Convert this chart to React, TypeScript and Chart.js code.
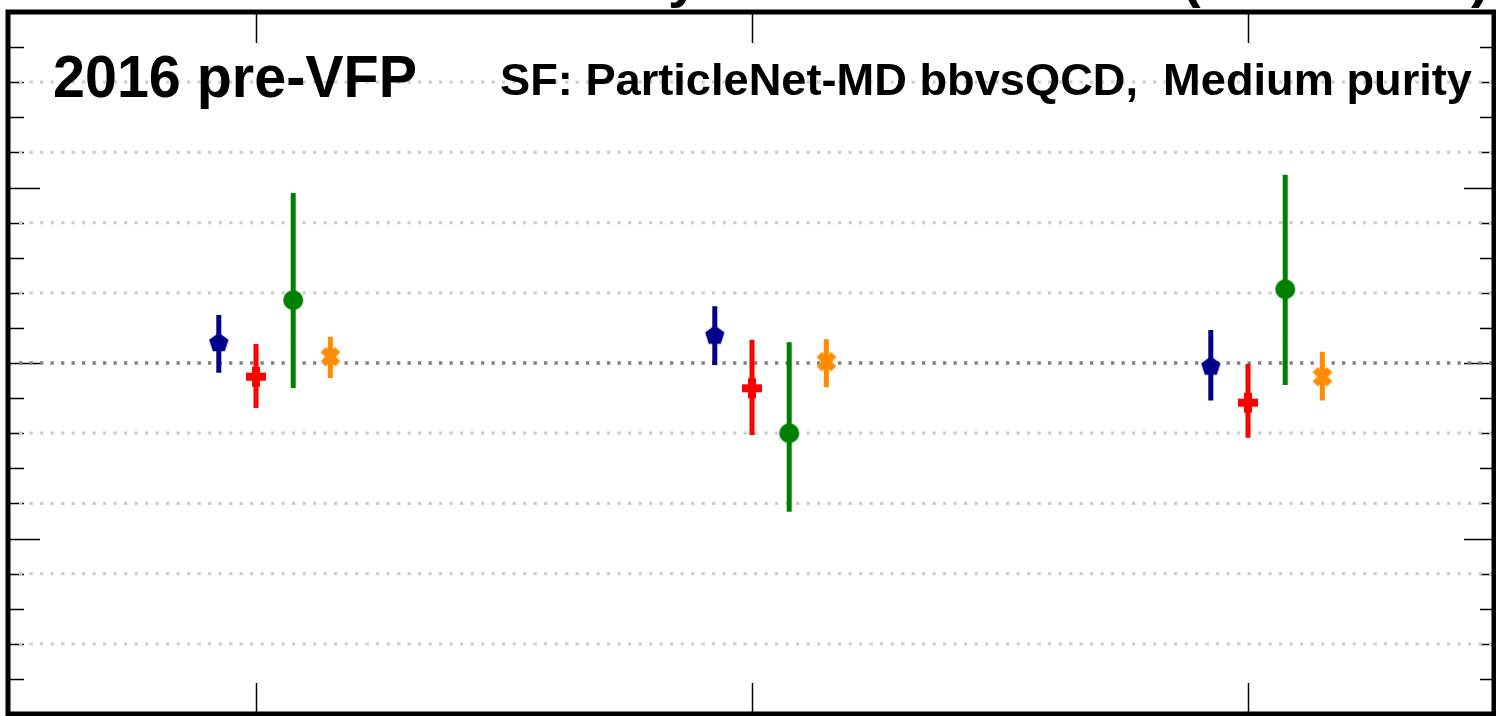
import React, { useEffect, useRef } from "react";
import { Chart, registerables } from "chart.js";

Chart.register(...registerables);

// ---- data ----
const categories = ["bin 1", "bin 2", "bin 3"];
const categoryPositions = [0, 1, 2];

const seriesNames = ["Method A", "Method B", "Method C", "Method D"];

const seriesAValues = [1.057, 1.078, 0.99];
const seriesAHigh = [1.137, 1.162, 1.094];
const seriesALow = [0.972, 0.994, 0.893];

const seriesBValues = [0.961, 0.928, 0.887];
const seriesBHigh = [1.054, 1.066, 0.997];
const seriesBLow = [0.872, 0.795, 0.787];

const seriesCValues = [1.179, 0.8, 1.21];
const seriesCHigh = [1.484, 1.059, 1.536];
const seriesCLow = [0.929, 0.576, 0.937];

const seriesDValues = [1.018, 1.004, 0.961];
const seriesDHigh = [1.075, 1.068, 1.032];
const seriesDLow = [0.957, 0.931, 0.893];

const yMinorTicks = [0.1, 0.2, 0.3, 0.4, 0.6, 0.7, 0.8, 0.9, 1.1, 1.2, 1.3, 1.4, 1.6, 1.7, 1.8, 1.9];
const yMajorTicks = [0.5, 1.0, 1.5];
const yGridValues = [0.2, 0.4, 0.6, 0.8, 1.2, 1.4, 1.6, 1.8];
const yReferenceLine = 1.0;

const eraLabel = "2016 pre-VFP";
const sfLabel = "SF: ParticleNet-MD bbvsQCD,  Medium purity";

// ---- styles ----
const seriesOffsets = [-0.075, 0, 0.075, 0.15];
const seriesColors = ["#00008b", "#ff0000", "#008000", "#ff8c00"];
const seriesShapes = ["pentagon", "plus", "circle", "x"];

function makeMarker(shape: string, color: string): HTMLCanvasElement {
  const c = document.createElement("canvas");
  c.width = 28;
  c.height = 28;
  const g = c.getContext("2d")!;
  g.translate(14, 14);
  g.fillStyle = color;
  g.strokeStyle = color;
  if (shape === "pentagon") {
    const r = 10.2;
    g.beginPath();
    for (let k = 0; k < 5; k++) {
      const a = -Math.PI / 2 + (k * 2 * Math.PI) / 5;
      const px = r * Math.cos(a);
      const py = r * Math.sin(a);
      if (k === 0) g.moveTo(px, py);
      else g.lineTo(px, py);
    }
    g.closePath();
    g.fill();
  } else if (shape === "plus") {
    const s = 10;
    const t = 4;
    g.fillRect(-s, -t, 2 * s, 2 * t);
    g.fillRect(-t, -s, 2 * t, 2 * s);
  } else if (shape === "circle") {
    g.beginPath();
    g.arc(0, 0, 10, 0, Math.PI * 2);
    g.fill();
  } else if (shape === "x") {
    const s = 7.2;
    g.lineWidth = 7.5;
    g.lineCap = "butt";
    g.beginPath();
    g.moveTo(-s, -s);
    g.lineTo(s, s);
    g.moveTo(-s, s);
    g.lineTo(s, -s);
    g.stroke();
  }
  return c;
}

const FONT = '"Liberation Sans", Arial, Helvetica, sans-serif';

function fitText(ctx: CanvasRenderingContext2D, text: string, x: number, y: number, size: number, width: number) {
  ctx.save();
  ctx.font = `bold ${size}px ${FONT}`;
  ctx.textBaseline = "alphabetic";
  ctx.textAlign = "left";
  const w = ctx.measureText(text).width;
  ctx.translate(x, y);
  ctx.scale(width / w, 1);
  ctx.fillStyle = "#000";
  ctx.fillText(text, 0, 0);
  ctx.restore();
}

export default function App() {
  const ref = useRef<HTMLCanvasElement | null>(null);

  useEffect(() => {
    if (!ref.current) return;
    const values = [seriesAValues, seriesBValues, seriesCValues, seriesDValues];
    const highs = [seriesAHigh, seriesBHigh, seriesCHigh, seriesDHigh];
    const lows = [seriesALow, seriesBLow, seriesCLow, seriesDLow];

    const datasets = seriesNames.map((name, s) => ({
      label: name,
      data: categoryPositions.map((c, i) => ({
        x: c + seriesOffsets[s],
        y: values[s][i],
        lo: lows[s][i],
        hi: highs[s][i],
      })),
      pointStyle: makeMarker(seriesShapes[s], seriesColors[s]) as any,
      backgroundColor: seriesColors[s],
      borderColor: seriesColors[s],
      showLine: false,
    }));

    const decorations = {
      id: "decorations",
      beforeDatasetsDraw(chart: any) {
        const ctx: CanvasRenderingContext2D = chart.ctx;
        const { left, right, top, bottom } = chart.chartArea;
        const xs = chart.scales.x;
        const ys = chart.scales.y;
        ctx.save();
        // ticks
        ctx.strokeStyle = "#000";
        ctx.lineWidth = 1.5;
        ctx.beginPath();
        yMinorTicks.forEach((v) => {
          const py = Math.round(ys.getPixelForValue(v)) + 0.5;
          ctx.moveTo(left, py);
          ctx.lineTo(left + 16, py);
          ctx.moveTo(right - 2, py);
          ctx.lineTo(right - 16, py);
        });
        yMajorTicks.forEach((v) => {
          const py = Math.round(ys.getPixelForValue(v)) + 0.5;
          ctx.moveTo(left, py);
          ctx.lineTo(left + 32, py);
          ctx.moveTo(right - 2, py);
          ctx.lineTo(right - 32, py);
        });
        categoryPositions.forEach((c) => {
          const px = Math.round(xs.getPixelForValue(c)) + 0.5;
          ctx.moveTo(px, top);
          ctx.lineTo(px, top + 31);
          ctx.moveTo(px, bottom);
          ctx.lineTo(px, bottom - 31);
        });
        ctx.stroke();
        // grid
        ctx.lineWidth = 3.3;
        ctx.setLineDash([3.3, 7.2]);
        ctx.strokeStyle = "#d0d0d0";
        ctx.beginPath();
        yGridValues.forEach((v) => {
          const py = ys.getPixelForValue(v);
          ctx.moveTo(left + 11, py);
          ctx.lineTo(right, py);
        });
        ctx.stroke();
        ctx.strokeStyle = "#808080";
        ctx.beginPath();
        const pr = ys.getPixelForValue(yReferenceLine);
        ctx.moveTo(left + 11, pr);
        ctx.lineTo(right, pr);
        ctx.stroke();
        ctx.setLineDash([]);
        // error bars
        ctx.lineWidth = 5;
        ctx.lineCap = "butt";
        chart.data.datasets.forEach((ds: any, s: number) => {
          ctx.strokeStyle = seriesColors[s];
          ctx.beginPath();
          ds.data.forEach((p: any) => {
            const px = xs.getPixelForValue(p.x);
            ctx.moveTo(px, ys.getPixelForValue(p.hi));
            ctx.lineTo(px, ys.getPixelForValue(p.lo));
          });
          ctx.stroke();
        });
        ctx.restore();
      },
      afterDatasetsDraw(chart: any) {
        const ctx: CanvasRenderingContext2D = chart.ctx;
        const { left, right, top, bottom } = chart.chartArea;
        ctx.save();
        // frame
        ctx.strokeStyle = "#000";
        ctx.lineWidth = 5;
        ctx.lineCap = "square";
        ctx.beginPath();
        ctx.moveTo(left, top);
        ctx.lineTo(right - 2, top);
        ctx.lineTo(right - 2, bottom);
        ctx.lineTo(left, bottom);
        ctx.closePath();
        ctx.stroke();
        // texts
        fitText(ctx, eraLabel, 53, 97, 60, 364);
        fitText(ctx, sfLabel, 500, 95, 44, 972);
        // title fragments cut by the top edge
        ctx.font = `bold 56px ${FONT}`;
        ctx.fillStyle = "#000";
        ctx.textBaseline = "alphabetic";
        ctx.fillText("y", 668, -4);
        ctx.fillText("(", 1182, -4);
        ctx.fillText(")", 1471, -4);
        ctx.restore();
      },
    };

    const chart = new Chart(ref.current, {
      type: "scatter",
      data: { labels: categories, datasets: datasets as any },
      options: {
        animation: false,
        responsive: false,
        devicePixelRatio: 1,
        layout: { autoPadding: false, padding: { left: 8, right: 0, top: 12, bottom: 2 } },
        plugins: { legend: { display: false }, tooltip: { enabled: false }, title: { display: false } },
        scales: {
          x: { type: "linear", min: -0.5, max: 2.5, display: false },
          y: { type: "linear", min: 0, max: 2, display: false },
        },
        elements: { point: { radius: 10 } },
      } as any,
      plugins: [decorations],
    });
    return () => chart.destroy();
  }, []);

  return (
    <div style={{ position: "absolute", left: 0, top: 0, width: 1496, height: 716, background: "#fff" }}>
      <canvas ref={ref} width={1496} height={716} style={{ display: "block" }} />
    </div>
  );
}
